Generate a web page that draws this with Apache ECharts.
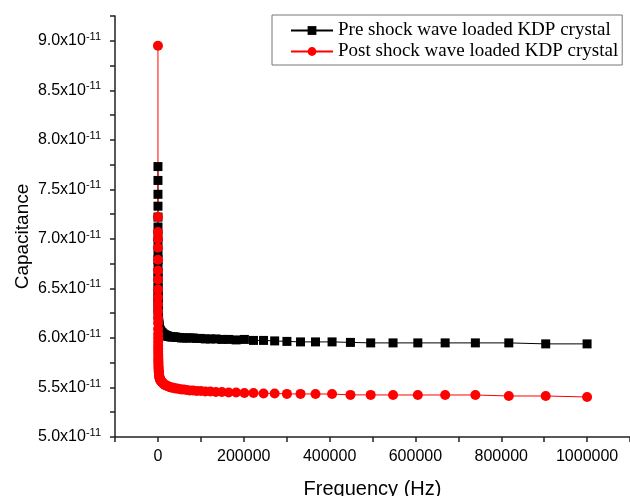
<!DOCTYPE html>
<html>
<head>
<meta charset="utf-8">
<script src="https://cdn.jsdelivr.net/npm/echarts@6/dist/echarts.min.js"></script>
<style>
    html, body { margin: 0; padding: 0; background: #fff; }
    #chart { width: 630px; height: 496px; }
</style>
</head>
<body>
<div id="chart"></div>
<script>
// frequency in Hz
var freq = [
    100, 110.5, 122.2, 135, 149.2, 164.9, 182.3, 201.5, 222.7, 246.1, 272, 300.6,
    332.3, 367.2, 405.8, 448.6, 495.8, 547.9, 605.6, 669.3, 739.7, 817.6, 903.6,
    1000, 1105, 1222, 1350, 1492, 1649, 1823, 2015, 2227, 2461, 2720, 3006,
    3323, 3672, 4058, 4486, 4958, 5479, 6056, 6693, 7397, 8176, 9036,
    10000, 11050, 12220, 13500, 14920, 16490, 18230, 20150, 22270, 24610, 27200, 30060,
    33230, 36720, 40580, 44860, 49580, 54790, 60560, 66930, 73970, 81760, 90360,
    100000, 110500, 122200, 135000, 149200, 164900, 182300, 201500, 222700, 246100, 272000, 300600,
    332300, 367200, 405800, 448600, 495800, 547900, 605600, 669300, 739700, 817600, 903600,
    1000000
];
// capacitance in units of 1e-11 F
var capPre = [
    7.73, 7.59, 7.45, 7.33, 7.22, 7.12, 7.02, 6.94, 6.86, 6.79, 6.72, 6.66,
    6.61, 6.56, 6.51, 6.47, 6.43, 6.40, 6.37, 6.34, 6.31, 6.28, 6.26,
    6.24, 6.22, 6.21, 6.19, 6.18, 6.16, 6.15, 6.14, 6.13, 6.12, 6.11, 6.10,
    6.10, 6.09, 6.08, 6.08, 6.07, 6.07, 6.07, 6.06, 6.06, 6.05, 6.05,
    6.05, 6.04, 6.04, 6.035, 6.03, 6.03, 6.025, 6.02, 6.02, 6.015, 6.015, 6.01,
    6.01, 6.01, 6.01, 6.005, 6.005, 6.0, 6.0, 6.0, 6.0, 6.0, 5.995,
    5.995, 5.99, 5.99, 5.99, 5.985, 5.985, 5.98, 5.985, 5.975, 5.975, 5.97, 5.965,
    5.96, 5.96, 5.96, 5.955, 5.95, 5.95, 5.95, 5.95, 5.95, 5.95, 5.94,
    5.94
];
var capPost = [
    8.95, 7.22, 7.07, 7.00, 6.91, 6.79, 6.68, 6.59, 6.49, 6.41, 6.34, 6.27,
    6.20, 6.15, 6.09, 6.04, 6.00, 5.96, 5.92, 5.89, 5.86, 5.83, 5.80,
    5.78, 5.76, 5.74, 5.72, 5.70, 5.69, 5.67, 5.66, 5.65, 5.64, 5.63, 5.62,
    5.61, 5.60, 5.59, 5.59, 5.58, 5.58, 5.57, 5.57, 5.56, 5.56, 5.56,
    5.55, 5.545, 5.54, 5.535, 5.53, 5.525, 5.52, 5.52, 5.515, 5.51, 5.505, 5.50,
    5.50, 5.495, 5.49, 5.49, 5.485, 5.48, 5.48, 5.475, 5.47, 5.47, 5.465,
    5.465, 5.46, 5.46, 5.455, 5.455, 5.45, 5.45, 5.445, 5.445, 5.44, 5.44, 5.435,
    5.435, 5.434, 5.434, 5.425, 5.425, 5.424, 5.424, 5.424, 5.424, 5.414, 5.414,
    5.404
];
var seriesNames = ["Pre shock wave loaded KDP crystal", "Post shock wave loaded KDP crystal"];

function pairs(xs, ys) {
    var out = [];
    for (var i = 0; i < xs.length; i++) {
        out.push([xs[i], ys[i]]);
    }
    return out;
}

var myChart = echarts.init(document.getElementById("chart"), null, { renderer: "canvas" });
var axisFont = "Arial, 'Liberation Sans', sans-serif";

option = {
    animation: false,
    backgroundColor: "#fff",
    grid: { left: 115, right: 0, top: 16, bottom: 59, containLabel: false, outerBoundsMode: "none" },
    legend: {
        orient: "vertical",
        left: 272,
        top: 15,
        padding: [6, 4, 4, 18],
        itemGap: 2,
        itemWidth: 42,
        itemHeight: 11,
        borderColor: "#777",
        borderWidth: 1,
        textStyle: { fontFamily: "'Liberation Serif', 'Times New Roman', serif", fontSize: 19, color: "#000" },
        data: seriesNames
    },
    xAxis: {
        type: "value",
        min: -100000,
        max: 1100000,
        interval: 100000,
        name: "Frequency (Hz)",
        nameLocation: "middle",
        nameGap: 42,
        nameMoveOverlap: false,
        nameTextStyle: { fontFamily: axisFont, fontSize: 20, color: "#000" },
        axisLine: { onZero: false, lineStyle: { color: "#222", width: 1.5 } },
        axisTick: { length: 5, lineStyle: { color: "#222", width: 1.5 } },
        axisLabel: {
            margin: 12,
            fontFamily: axisFont,
            fontSize: 16,
            color: "#000",
            formatter: function(v) {
                if (v < 0 || v > 1000000 || v % 200000 != 0) return "";
                return String(v);
            }
        },
        splitLine: { show: false }
    },
    yAxis: {
        type: "value",
        min: 5.0,
        max: 9.25,
        interval: 0.25,
        name: "Capacitance",
        nameLocation: "middle",
        nameGap: 83,
        nameMoveOverlap: false,
        nameTextStyle: { fontFamily: axisFont, fontSize: 19, color: "#000", padding: [0, 0, 0, -20] },
        axisLine: { onZero: false, lineStyle: { color: "#222", width: 1.5 } },
        axisTick: { length: 5, lineStyle: { color: "#222", width: 1.5 } },
        axisLabel: {
            margin: 14,
            fontFamily: axisFont,
            fontSize: 16,
            color: "#000",
            formatter: function(v) {
                if (Math.round(v * 100) % 50 != 0) return "";
                return v.toFixed(1) + "x10{sup|-11}";
            },
            rich: {
                sup: { fontFamily: axisFont, fontSize: 11, color: "#000", verticalAlign: "top", padding: [0, 0, 8, 0] }
            }
        },
        splitLine: { show: false }
    },
    series: [{
            name: seriesNames[0],
            type: "line",
            data: pairs(freq, capPre),
            symbol: "rect",
            symbolSize: 9,
            color: "#000",
            lineStyle: { color: "#000", width: 1 },
            itemStyle: { color: "#000" }
        },
        {
            name: seriesNames[1],
            type: "line",
            data: pairs(freq, capPost),
            symbol: "circle",
            symbolSize: 10,
            color: "#ff0000",
            lineStyle: { color: "#ff0000", width: 1 },
            itemStyle: { color: "#ff0000" }
        }
    ]
};
myChart.setOption(option);
</script>
</body>
</html>
